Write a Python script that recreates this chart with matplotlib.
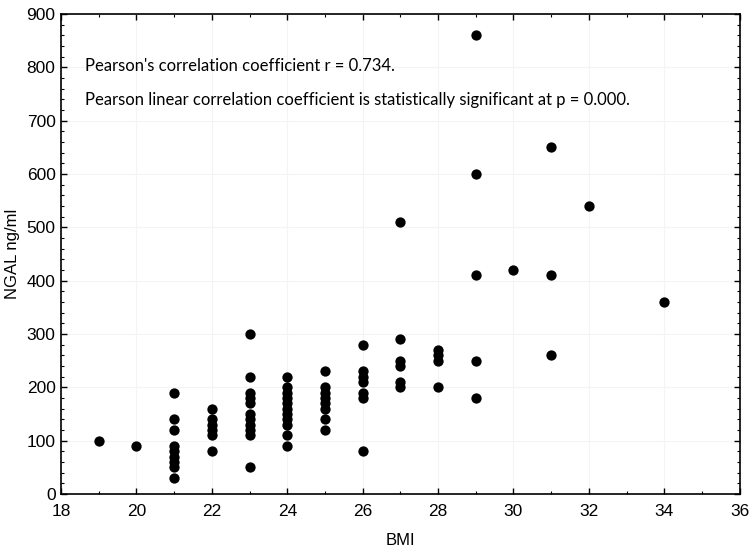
import matplotlib
matplotlib.use("Agg")
import matplotlib.pyplot as plt
from matplotlib.ticker import MultipleLocator

# BMI values and matching NGAL values (ng/ml), grouped by BMI column
bmi = ([19] + [20]
       + [21] * 9
       + [22] * 6
       + [23] * 11
       + [24] * 11
       + [25] * 8
       + [26] * 7
       + [27] * 6
       + [28] * 4
       + [29] * 5
       + [30]
       + [31] * 3
       + [32]
       + [34])
ngal = ([100] + [90]
        + [190, 140, 120, 90, 80, 70, 60, 50, 30]
        + [160, 140, 130, 120, 110, 80]
        + [300, 220, 190, 180, 170, 150, 140, 130, 120, 110, 50]
        + [220, 200, 190, 180, 170, 160, 150, 140, 130, 110, 90]
        + [230, 200, 190, 180, 170, 160, 140, 120]
        + [280, 230, 220, 210, 190, 180, 80]
        + [510, 290, 250, 240, 210, 200]
        + [270, 260, 250, 200]
        + [860, 600, 410, 250, 180]
        + [420]
        + [650, 410, 260]
        + [540]
        + [360])

notes = ["Pearson's correlation coefficient r = 0.734.",
         "Pearson linear correlation coefficient is statistically significant at p = 0.000."]

plt.rcParams["font.family"] = ["Liberation Sans", "DejaVu Sans"]

fig = plt.figure(figsize=(7.54, 5.55), dpi=100)
ax = fig.add_axes([0.081, 0.110, 0.900, 0.865])

ax.scatter(bmi, ngal, s=55, color="black", zorder=3, linewidths=0)

ax.set_xlim(18, 36)
ax.set_ylim(0, 900)
ax.xaxis.set_major_locator(MultipleLocator(2))
ax.xaxis.set_minor_locator(MultipleLocator(1))
ax.yaxis.set_major_locator(MultipleLocator(100))
ax.yaxis.set_minor_locator(MultipleLocator(20))
ax.tick_params(which="both", direction="in", top=True, right=True, labelsize=12.5)
ax.tick_params(which="major", length=4, width=1)
ax.tick_params(which="minor", length=2.5, width=0.8)
ax.tick_params(axis="x", pad=7)
ax.tick_params(axis="y", pad=4)
ax.grid(True, which="major", color="#f4f4f4", linewidth=0.8, zorder=0)
for sp in ax.spines.values():
    sp.set_linewidth(1.2)

ax.set_xlabel("BMI", fontsize=12, va="center")
ax.set_ylabel("NGAL ng/ml", fontsize=12, va="center")
ax.xaxis.set_label_coords(0.5, -0.098)
ax.yaxis.set_label_coords(-0.071, 0.5)

ax.text(0.035, 0.892, notes[0], transform=ax.transAxes, fontsize=12,
        va="center", family=["Lato", "DejaVu Sans"])
ax.text(0.035, 0.821, notes[1], transform=ax.transAxes, fontsize=12,
        va="center", family=["Lato", "DejaVu Sans"])

fig.savefig("out.png", dpi=100)
